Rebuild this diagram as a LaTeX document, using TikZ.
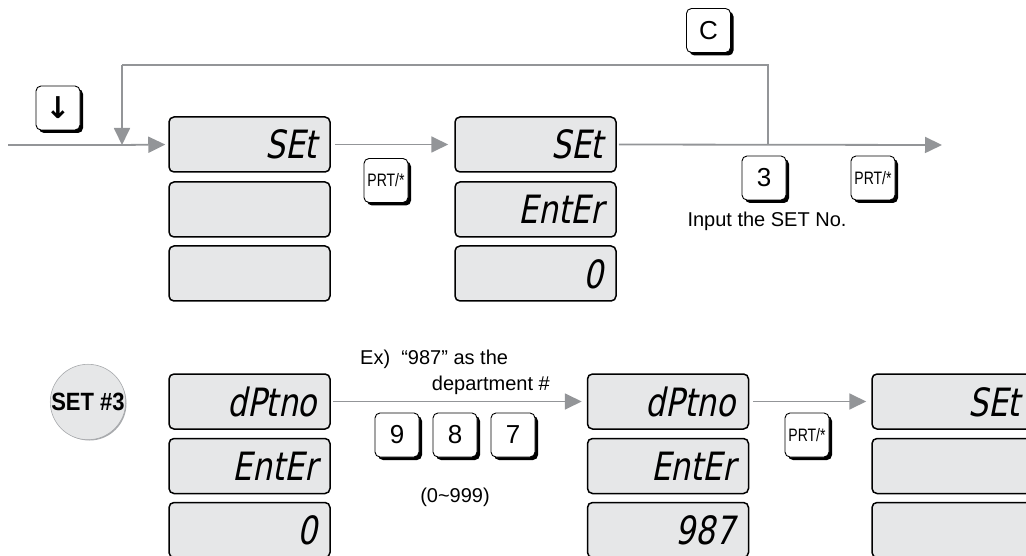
\documentclass[tikz,border=0pt]{standalone}
\usepackage{fontspec}
\setmainfont{Liberation Sans}
\newfontfamily\lcdfont[FakeSlant=0.2,FakeStretch=0.8]{DejaVu Sans}
\newfontfamily\keyfont{Liberation Sans}
\newfontfamily\narrowfont[FakeStretch=0.78]{Liberation Sans}
\newfontfamily\setfont[FakeStretch=0.88]{Liberation Sans}
\newfontfamily\arrowfont{DejaVu Sans}
\usetikzlibrary{arrows.meta,shadows}
\definecolor{lcdgray}{HTML}{E6E7E8}
\definecolor{flowgray}{HTML}{939598}
\definecolor{rimgray}{HTML}{A7A9AC}
\begin{document}
\begin{tikzpicture}[x=1pt,y=-1pt,
  lcd/.style={draw=black, line width=1.5pt, fill=lcdgray, rounded corners=5pt,
    minimum height=55pt, text width=135pt, inner xsep=13pt, inner ysep=0pt,
    align=right, font=\lcdfont\fontsize{39}{39}\selectfont, text height=29pt, text depth=0pt},
  keybox/.style={draw=black, line width=0.9pt, fill=white, rounded corners=5pt,
    minimum width=44pt, minimum height=44pt, inner sep=0pt,
    drop shadow={shadow xshift=3pt, shadow yshift=-3pt, fill=black, opacity=1}},
  numkey/.style={keybox, font=\keyfont\fontsize{26}{26}\selectfont},
  prtkey/.style={keybox, font=\narrowfont\fontsize{18}{18}\selectfont},
  flow/.style={draw=flowgray, line width=1.8pt},
  arr/.style={flow, -{Triangle[length=17pt,width=16pt]}, color=flowgray},
  note/.style={font=\fontsize{20}{22}\selectfont, inner sep=0pt}
]
\useasboundingbox (0,0) rectangle (1026,556);

% top row displays
\node[lcd] (a1) at (249.5,144.5) {SEt};
\node[lcd] (a2) at (249.5,209.5) {};
\node[lcd] (a3) at (249.5,273.5) {};
\node[lcd] (b1) at (535.5,144.5) {SEt};
\node[lcd] (b2) at (535.5,209.5) {EntEr};
\node[lcd] (b3) at (535.5,273.5) {0};

% bottom row displays
\node[lcd] (c1) at (249.5,401.5) {dPtno};
\node[lcd] (c2) at (249.5,466) {EntEr};
\node[lcd] (c3) at (249.5,530) {0};
\node[lcd] (d1) at (668,401.5) {dPtno};
\node[lcd] (d2) at (668,466) {EntEr};
\node[lcd] (d3) at (668,530) {987};
\node[lcd] (e1) at (952.5,401.5) {SEt};
\node[lcd] (e2) at (952.5,466) {};
\node[lcd] (e3) at (952.5,530) {};

% keys
\node[numkey, font=\arrowfont\bfseries\fontsize{30}{30}\selectfont] (kdown) at (58,108) {↓};
\node[prtkey] (kprt1) at (386,180.5) {PRT/*};
\node[numkey] (kc) at (708.5,30.5) {C};
\node[numkey] (k3) at (764,178) {3};
\node[prtkey] (kprt2) at (873,178) {PRT/*};
\node[numkey] (k9) at (397,435) {9};
\node[numkey] (k8) at (455,435) {8};
\node[numkey] (k7) at (513,435) {7};
\node[prtkey] (kprt3) at (807,435) {PRT/*};

% SET #3 badge
\fill[rimgray] (89.5,403.5) circle (37pt);
\node[circle, draw=rimgray, line width=0.6pt, fill=lcdgray, minimum size=74pt, inner sep=0pt,
  font=\setfont\bfseries\fontsize{25}{25}\selectfont] (set3) at (88,402) {SET \#3};

% texts
\node[note] (inp) at (767,221) {Input the SET No.};
\node[note, anchor=west] (ex1) at (360,359) {Ex)\ \ “987”\ as the};
\node[note, anchor=east] (ex2) at (550,385) {department \#};
\node[note] (rng) at (455,497) {(0\textasciitilde999)};

% connectors
\coordinate (start) at (8,145);
\coordinate (j0) at (122,145);
\coordinate (lt) at (122,65);
\coordinate (j1) at (768,145);
\coordinate (rt) at (768,65);
\coordinate (endr) at (942,145);

\draw[flow] (start) -- (j0);
\draw[arr, shorten >=3pt] (j0) -- (a1.west);
\draw[flow] (j1) -- (rt) -- (lt);
\draw[arr] (lt) -- (j0);
\draw[arr, shorten <=4pt, shorten >=6pt] (a1.east) -- (b1.west);
\draw[arr, shorten <=2pt] (b1.east) -- (endr);
\draw[arr, shorten <=2pt, shorten >=5pt] (c1.east) -- (d1.west);
\draw[arr, shorten <=4pt, shorten >=5pt] (d1.east) -- (e1.west);
\end{tikzpicture}
\end{document}
